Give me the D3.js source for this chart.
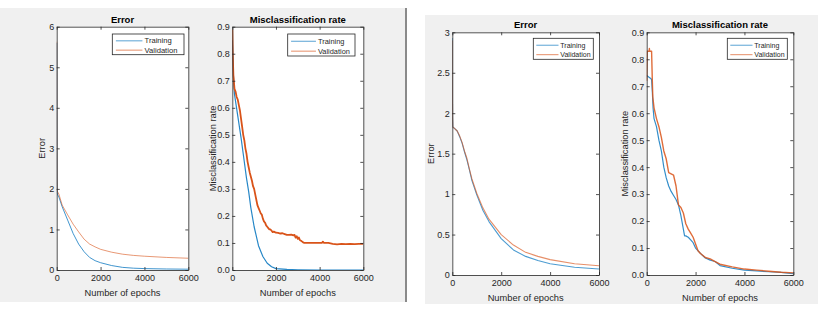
<!DOCTYPE html>
<html>
<head>
<meta charset="utf-8">
<script src="https://cdn.jsdelivr.net/npm/d3@7"></script>
<style>
  html, body { margin: 0; padding: 0; background: #ffffff; }
  svg { display: block; font-family: "Liberation Sans", Arial, sans-serif; }
</style>
</head>
<body>
<svg id="chart" width="828" height="314"></svg>
<script>
// ---------------- DATA ----------------
const xTicks = [0, 2000, 4000, 6000];
const seriesNames = ["Training", "Validation"];

// Panel 1: Error (run A)
const epochsErrA = [0, 5, 10, 20, 50, 100, 250, 500, 750, 1000, 1250, 1500, 1750, 2000, 2500, 3000, 3500, 4000, 5000, 6000];
const trainErrA  = [5.6, 3.2, 2.2, 1.9, 1.85, 1.8, 1.56, 1.23, 0.90, 0.64, 0.45, 0.31, 0.23, 0.18, 0.11, 0.065, 0.045, 0.035, 0.025, 0.02];
const valErrA    = [5.63, 3.3, 2.3, 1.95, 1.92, 1.87, 1.6, 1.36, 1.13, 0.94, 0.76, 0.64, 0.57, 0.51, 0.44, 0.39, 0.36, 0.34, 0.31, 0.29];
const yTicksErrA = [0, 1, 2, 3, 4, 5, 6];

// Panel 2: Misclassification rate (run A)
const epochsTrainMisA = [0, 50, 100, 250, 400, 500, 650, 750, 850, 1000, 1200, 1400, 1600, 1800, 2000, 2500, 3000, 4000, 6000];
const trainMisA       = [0.85, 0.72, 0.65, 0.57, 0.49, 0.43, 0.34, 0.29, 0.23, 0.16, 0.09, 0.05, 0.025, 0.012, 0.005, 0.002, 0.001, 0, 0];
const epochsValMisA = [0, 20, 50, 100, 150, 200, 250, 300, 350, 400, 450, 500, 550, 600, 650, 700, 750, 800, 850, 900, 950,
  1000, 1050, 1100, 1150, 1200, 1250, 1300, 1350, 1400, 1450, 1500, 1550, 1600, 1650, 1700, 1750, 1800, 1850, 1900, 1950,
  2000, 2100, 2200, 2300, 2400, 2500, 2600, 2700, 2800, 2850, 2900, 2950, 3000, 3050, 3100, 3150, 3200, 3250, 3300,
  3400, 3600, 3800, 4000, 4100, 4150, 4200, 4400, 4600, 4800, 5000, 5200, 5400, 5600, 5800, 6000];
const valMisA = [0.89, 0.80, 0.72, 0.67, 0.66, 0.64, 0.63, 0.61, 0.59, 0.56, 0.53, 0.50, 0.48, 0.45, 0.43, 0.40, 0.38, 0.36, 0.345, 0.33, 0.31,
  0.30, 0.28, 0.26, 0.24, 0.23, 0.22, 0.21, 0.205, 0.19, 0.18, 0.175, 0.165, 0.16, 0.155, 0.15, 0.15, 0.145, 0.14, 0.142, 0.14,
  0.138, 0.137, 0.135, 0.136, 0.133, 0.13, 0.13, 0.131, 0.128, 0.13, 0.12, 0.125, 0.115, 0.12, 0.11, 0.108, 0.105, 0.102, 0.10,
  0.10, 0.10, 0.10, 0.10, 0.10, 0.105, 0.10, 0.10, 0.097, 0.095, 0.097, 0.096, 0.097, 0.096, 0.097, 0.097];
const yTicksMis = [0, 0.1, 0.2, 0.3, 0.4, 0.5, 0.6, 0.7, 0.8, 0.9];

// Panel 3: Error (run B)
const epochsErrB = [0, 5, 10, 20, 100, 200, 300, 400, 500, 600, 700, 800, 1000, 1250, 1500, 2000, 2500, 3000, 3500, 4000, 5000, 6000];
const trainErrB  = [2.93, 2.3, 1.95, 1.83, 1.81, 1.78, 1.71, 1.63, 1.52, 1.42, 1.30, 1.17, 0.99, 0.80, 0.66, 0.45, 0.31, 0.23, 0.18, 0.14, 0.095, 0.075];
const valErrB    = [2.9, 2.3, 1.95, 1.83, 1.81, 1.78, 1.72, 1.64, 1.53, 1.44, 1.31, 1.19, 1.01, 0.83, 0.69, 0.50, 0.37, 0.28, 0.23, 0.19, 0.14, 0.115];
const yTicksErrB = [0, 0.5, 1, 1.5, 2, 2.5, 3];

// Panel 4: Misclassification rate (run B)
const epochsTrainMisB = [0, 150, 200, 230, 260, 300, 400, 500, 600, 700, 800, 900, 1000, 1100, 1200, 1300, 1400, 1500, 1550, 1600, 1700, 1800, 1900, 2000, 2200, 2400, 2600, 2800, 3000, 3500, 4000, 4500, 5000, 5500, 6000];
const trainMisB       = [0.74, 0.73, 0.725, 0.68, 0.62, 0.58, 0.55, 0.50, 0.46, 0.40, 0.36, 0.33, 0.31, 0.295, 0.28, 0.26, 0.22, 0.17, 0.145, 0.145, 0.14, 0.13, 0.12, 0.10, 0.08, 0.063, 0.055, 0.05, 0.035, 0.025, 0.018, 0.015, 0.012, 0.01, 0.005];
const epochsValMisB = [0, 20, 100, 110, 120, 200, 230, 250, 300, 400, 500, 600, 700, 800, 900, 1000, 1100, 1200, 1300, 1400, 1500, 1600, 1700, 1800, 1900, 2000, 2100, 2200, 2400, 2600, 2800, 3000, 3500, 4000, 4500, 5000, 5500, 6000];
const valMisB       = [0.72, 0.83, 0.83, 0.84, 0.83, 0.83, 0.72, 0.66, 0.62, 0.58, 0.55, 0.51, 0.46, 0.43, 0.38, 0.375, 0.37, 0.33, 0.26, 0.25, 0.23, 0.19, 0.17, 0.155, 0.14, 0.115, 0.09, 0.08, 0.065, 0.06, 0.05, 0.04, 0.03, 0.022, 0.018, 0.014, 0.01, 0.008];

// ---------------- STYLE / LAYOUT ----------------
const trainColor = "#0072BD";
const valColor = "#D95319";
const axisColor = "#262626";
const fontFam = "'Liberation Sans', Arial, sans-serif";

const svg = d3.select("#chart");

// Figure backgrounds
svg.append("rect").attr("x", 0).attr("y", 8).attr("width", 405).attr("height", 294).attr("fill", "#f0f0f0");
svg.append("rect").attr("x", 405).attr("y", 8).attr("width", 2).attr("height", 294).attr("fill", "#8a8a8a");
svg.append("rect").attr("x", 425).attr("y", 15).attr("width", 393).attr("height", 289).attr("fill", "#f0f0f0");

const panels = [
  { title: "Error", ylabel: "Error", left: 56.7, right: 188.3, top: 26.7, bottom: 270, ylabelX: 42,
    yMax: 6, yTicks: yTicksErrA, fmt: d3.format("d"),
    series: [{ x: epochsErrA, y: trainErrA, c: trainColor, w: 1, o: 0.75 }, { x: epochsErrA, y: valErrA, c: valColor, w: 1, o: 0.6 }],
    legend: { x0: 112.3, x1: 184, y0: 34, y1: 54.7, fs: 7.6 } },
  { title: "Misclassification rate", ylabel: "Misclassification rate", left: 232.3, right: 363.3, top: 26.7, bottom: 270, ylabelX: 212.7,
    yMax: 0.9, yTicks: yTicksMis, fmt: d3.format(".1f"),
    series: [{ x: epochsTrainMisA, y: trainMisA, c: trainColor, w: 1.2, o: 0.85 }, { x: epochsValMisA, y: valMisA, c: valColor, w: 1.8, o: 1 }],
    legend: { x0: 287.7, x1: 355, y0: 34, y1: 56, fs: 7.4 } },
  { title: "Error", ylabel: "Error", left: 452.3, right: 599, top: 32.3, bottom: 275, ylabelX: 430.7,
    yMax: 3, yTicks: yTicksErrB, fmt: d => d3.format("")(d),
    series: [{ x: epochsErrB, y: trainErrB, c: trainColor, w: 1.1, o: 0.7 }, { x: epochsErrB, y: valErrB, c: valColor, w: 1.1, o: 0.65 }],
    legend: { x0: 533.3, x1: 593.3, y0: 38.3, y1: 59.3, fs: 7.0 } },
  { title: "Misclassification rate", ylabel: "Misclassification rate", left: 646.7, right: 793.3, top: 32.3, bottom: 275, ylabelX: 625,
    yMax: 0.9, yTicks: yTicksMis, fmt: d3.format(".1f"),
    series: [{ x: epochsTrainMisB, y: trainMisB, c: trainColor, w: 1.2, o: 0.8 }, { x: epochsValMisB, y: valMisB, c: valColor, w: 1.4, o: 0.85 }],
    legend: { x0: 727.3, x1: 787.3, y0: 38.3, y1: 59.3, fs: 7.0 } }
];

panels.forEach(p => {
  const x = d3.scaleLinear().domain([0, 6000]).range([p.left, p.right]);
  const y = d3.scaleLinear().domain([0, p.yMax]).range([p.bottom, p.top]);
  const g = svg.append("g");

  g.append("rect").attr("x", p.left).attr("y", p.top)
    .attr("width", p.right - p.left).attr("height", p.bottom - p.top).attr("fill", "#ffffff");

  // Lines
  const clipId = "clip" + Math.round(p.left);
  svg.append("clipPath").attr("id", clipId).append("rect")
    .attr("x", p.left).attr("y", p.top - 1).attr("width", p.right - p.left).attr("height", p.bottom - p.top + 1);
  const line = d3.line().x(d => x(d[0])).y(d => y(d[1]));
  p.series.forEach(s => {
    const pts = s.x.map((e, i) => [e, s.y[i]]);
    g.append("path").datum(pts).attr("d", line).attr("fill", "none")
      .attr("stroke", s.c).attr("stroke-width", s.w).attr("stroke-opacity", s.o)
      .attr("stroke-linejoin", "round").attr("clip-path", `url(#${clipId})`);
  });

  // Axes (MATLAB-like, ticks inward, box on)
  const tl = 3;
  const axB = d3.axisBottom(x).tickValues(xTicks).tickSizeInner(-tl).tickSizeOuter(0).tickPadding(5).tickFormat(d3.format("d"));
  const axT = d3.axisTop(x).tickValues(xTicks).tickSizeInner(-tl).tickSizeOuter(0).tickFormat("");
  const axL = d3.axisLeft(y).tickValues(p.yTicks).tickSizeInner(-tl).tickSizeOuter(0).tickPadding(2.5).tickFormat(p.fmt);
  const axR = d3.axisRight(y).tickValues(p.yTicks).tickSizeInner(-tl).tickSizeOuter(0).tickFormat("");

  const styleAxis = sel => {
    sel.selectAll("path").attr("stroke", axisColor).attr("stroke-width", 0.8);
    sel.selectAll("line").attr("stroke", axisColor).attr("stroke-width", 0.8);
    sel.selectAll("text").attr("fill", axisColor).attr("font-size", 9)
      .attr("font-family", fontFam);
  };
  g.append("g").attr("transform", `translate(0,${p.bottom})`).call(axB).call(styleAxis);
  g.append("g").attr("transform", `translate(0,${p.top})`).call(axT).call(styleAxis);
  g.append("g").attr("transform", `translate(${p.left},0)`).call(axL).call(styleAxis);
  g.append("g").attr("transform", `translate(${p.right},0)`).call(axR).call(styleAxis);

  // Title
  g.append("text").attr("x", (p.left + p.right) / 2).attr("y", p.top - 4)
    .attr("text-anchor", "middle").attr("font-size", 9.5).attr("font-weight", "bold").attr("fill", "#000")
    .text(p.title);
  // X label
  g.append("text").attr("x", (p.left + p.right) / 2).attr("y", p.bottom + 26)
    .attr("text-anchor", "middle").attr("font-size", 9.3).attr("fill", axisColor)
    .text("Number of epochs");
  // Y label
  g.append("text").attr("transform", `translate(${p.ylabelX + 3.3},${(p.top + p.bottom) / 2}) rotate(-90)`)
    .attr("text-anchor", "middle").attr("font-size", 9.3).attr("fill", axisColor)
    .text(p.ylabel);

  // Legend
  const L = p.legend;
  g.append("rect").attr("x", L.x0).attr("y", L.y0).attr("width", L.x1 - L.x0).attr("height", L.y1 - L.y0)
    .attr("fill", "#fff").attr("stroke", axisColor).attr("stroke-width", 0.8);
  const lw = (L.x1 - L.x0);
  const rowY = [L.y0 + (L.y1 - L.y0) * 0.33, L.y0 + (L.y1 - L.y0) * 0.78];
  seriesNames.forEach((nm, i) => {
    const c = i === 0 ? trainColor : valColor;
    g.append("line").attr("x1", L.x0 + lw * 0.05).attr("x2", L.x0 + lw * 0.42)
      .attr("y1", rowY[i]).attr("y2", rowY[i]).attr("stroke", c).attr("stroke-width", 1).attr("stroke-opacity", 0.65);
    g.append("text").attr("x", L.x0 + lw * 0.45).attr("y", rowY[i] + 2.6)
      .attr("font-size", L.fs).attr("fill", axisColor).text(nm);
  });
});
</script>
</body>
</html>
